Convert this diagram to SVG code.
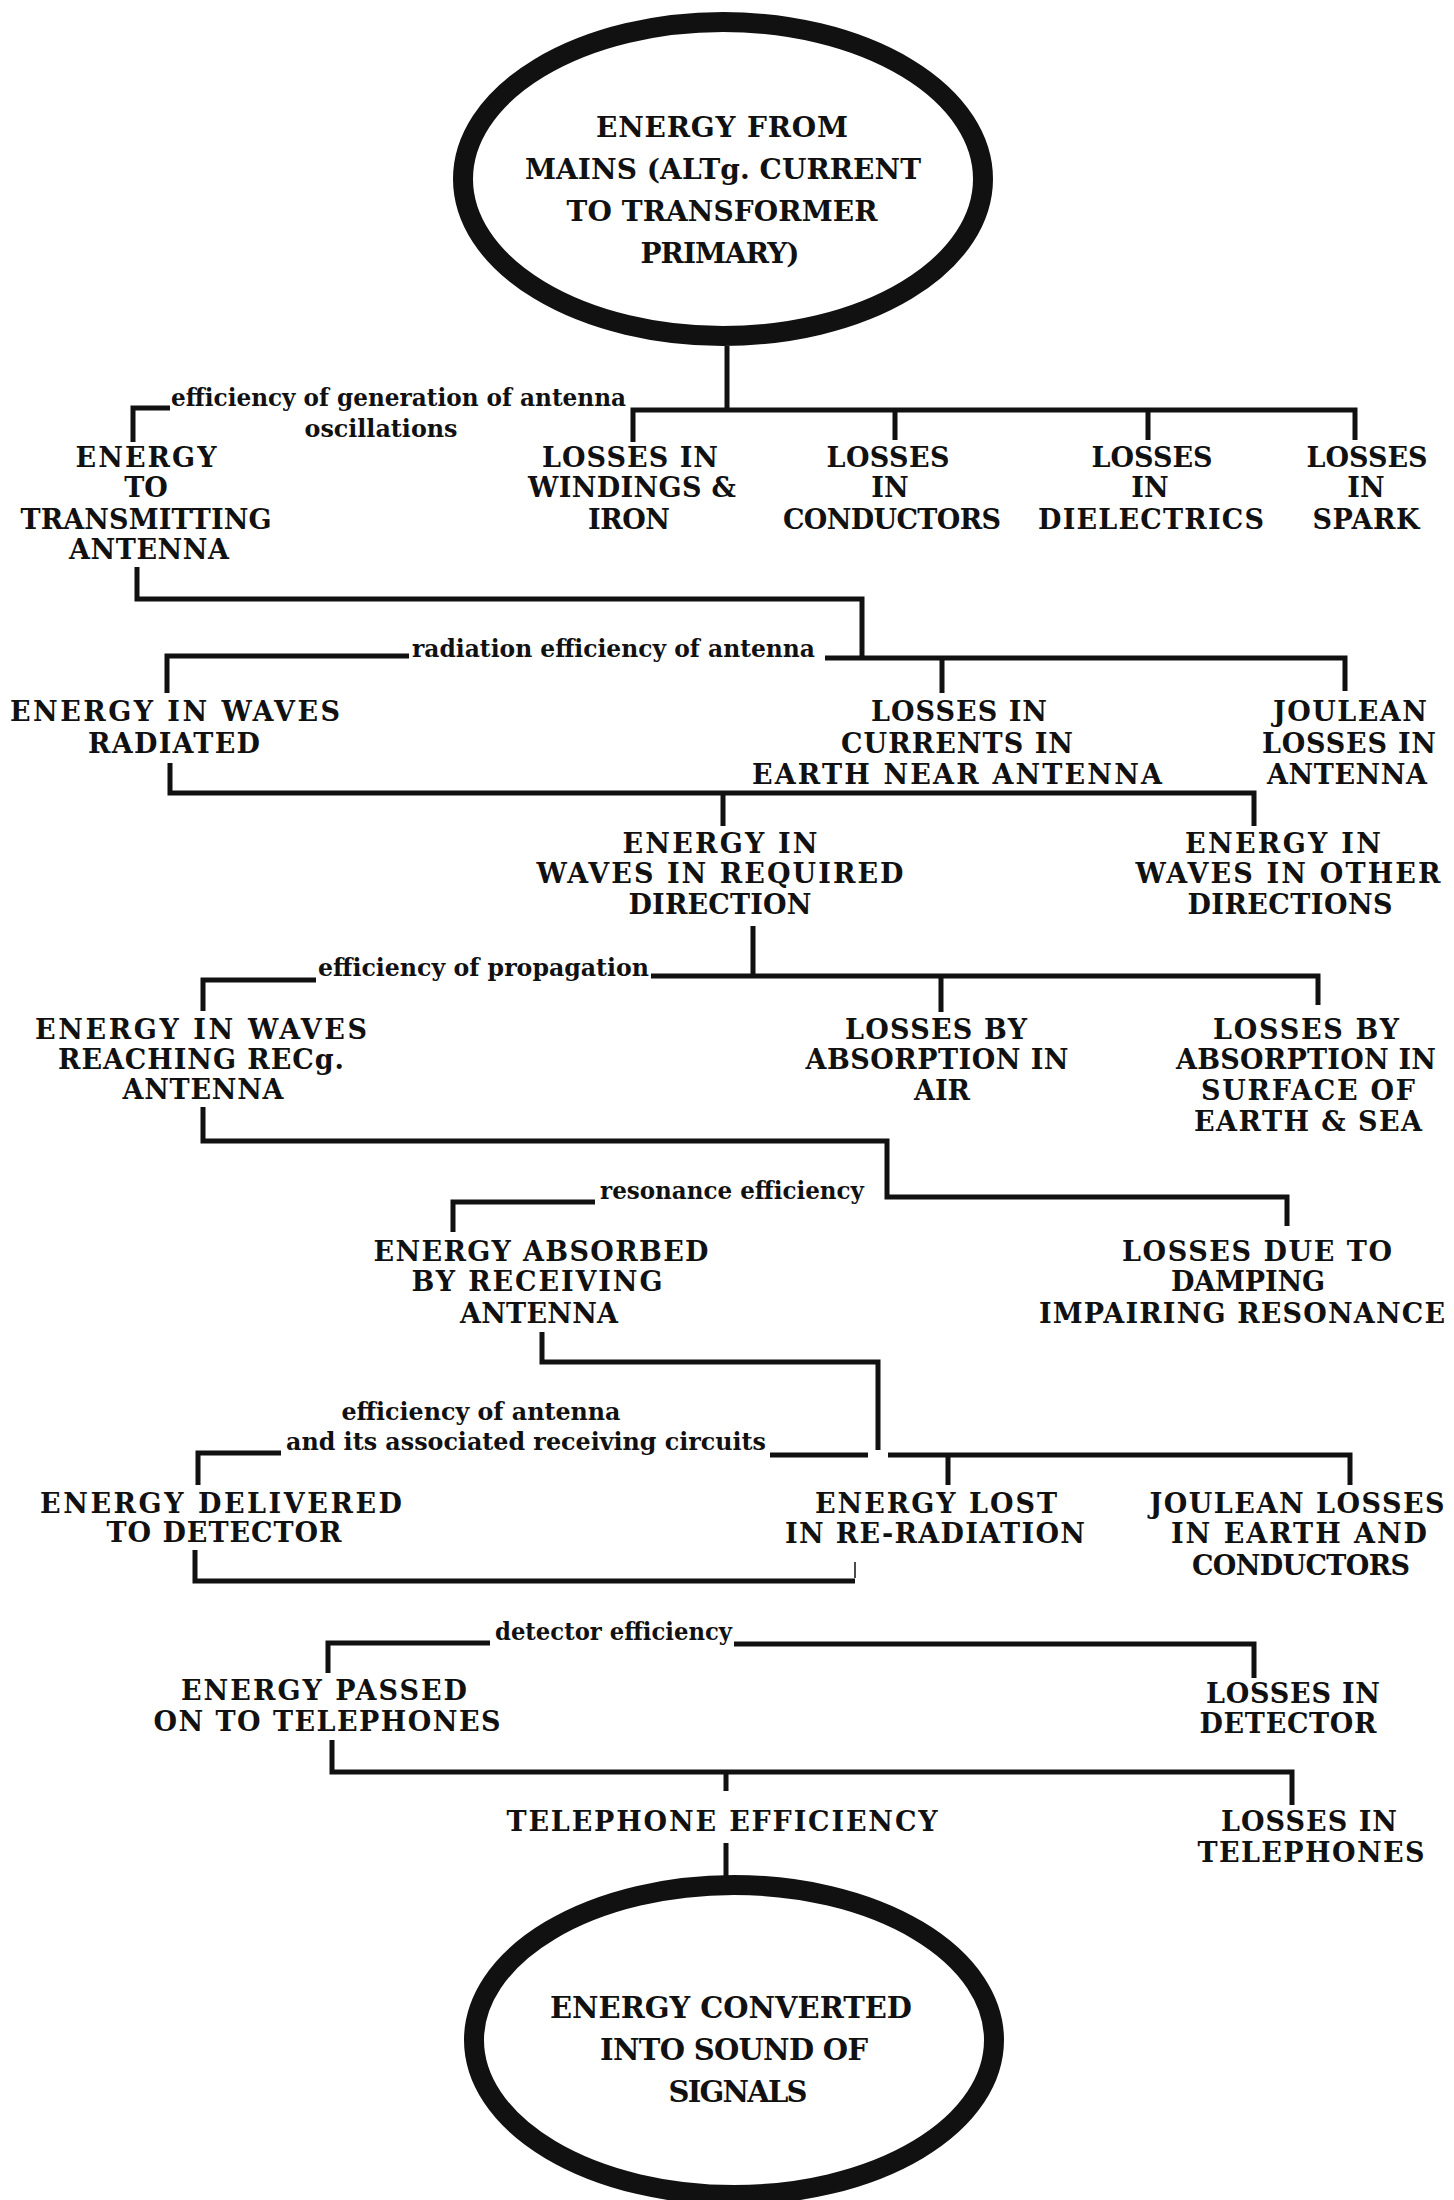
<svg xmlns="http://www.w3.org/2000/svg" width="1454" height="2200" viewBox="0 0 1454 2200">
<style>
text{font-family:"DejaVu Serif","Liberation Serif",serif;font-weight:bold;fill:#111}
.n{font-size:27px;text-anchor:middle}
.e{font-size:28px;text-anchor:middle}
.e2{font-size:29px;text-anchor:middle}
.l{font-size:24px;text-anchor:start}
.lc{font-size:24px;text-anchor:middle}
.oval{fill:none;stroke:#111;stroke-width:20}
#connectors path{fill:none;stroke:#111;stroke-width:5}
</style>
<rect width="1454" height="2200" fill="#fff"/>

<g id="connectors">
 <path d="M727 346 V410"/>
 <path d="M633 442 V410 H1355 V440"/>
 <path d="M895 410 V440 M1148 410 V440"/>
 <path d="M133 442 V408 H170"/>
 <path d="M137 567 V599 H862 V658"/>
 <path d="M825 658 H1345 V691 M942 658 V693"/>
 <path d="M167 693 V656 H409"/>
 <path d="M170 763 V793 H1254 V826 M723 793 V826"/>
 <path d="M753 926 V976 M651 976 H1318 V1005 M941 976 V1012"/>
 <path d="M203 1011 V980 H316"/>
 <path d="M203 1107 V1141 H887 V1197 H1287 V1226"/>
 <path d="M453 1232 V1202 H595"/>
 <path d="M542 1332 V1362 H878 V1450"/>
 <path d="M770 1455 H868 M888 1455 H1350 V1485 M948 1455 V1485"/>
 <path d="M198 1485 V1453 H281"/>
 <path d="M195 1550 V1581 H855"/>
 <path d="M855 1562 V1578" style="stroke-width:1.5"/>
 <path d="M328 1673 V1643 H490"/>
 <path d="M734 1644 H1254 V1678"/>
 <path d="M332 1740 V1772 H1292 V1805 M726 1772 V1791"/>
 <path d="M726 1843 V1876"/>
</g>

<g id="labels">
 <text class="l" x="171" y="406" textLength="455" lengthAdjust="spacingAndGlyphs">efficiency of generation of antenna</text>
 <text class="lc" x="381" y="437" textLength="153" lengthAdjust="spacingAndGlyphs">oscillations</text>
 <text class="l" x="412" y="657" textLength="403" lengthAdjust="spacingAndGlyphs">radiation efficiency of antenna</text>
 <text class="l" x="318" y="976" textLength="331" lengthAdjust="spacingAndGlyphs">efficiency of propagation</text>
 <text class="l" x="600" y="1199" textLength="264" lengthAdjust="spacingAndGlyphs">resonance efficiency</text>
 <text class="lc" x="481" y="1420" textLength="279" lengthAdjust="spacingAndGlyphs">efficiency of antenna</text>
 <text class="l" x="286" y="1450" textLength="480" lengthAdjust="spacingAndGlyphs">and its associated receiving circuits</text>
 <text class="l" x="495" y="1640" textLength="237" lengthAdjust="spacingAndGlyphs">detector efficiency</text>
</g>

<g id="n-mains">
 <ellipse class="oval" cx="723" cy="179" rx="260" ry="157"/>
 <text class="e" x="722" y="137" textLength="252" lengthAdjust="spacing">ENERGY FROM</text>
 <text class="e" x="723" y="179" textLength="396" lengthAdjust="spacing">MAINS (ALTg. CURRENT</text>
 <text class="e" x="722" y="221" textLength="311" lengthAdjust="spacing">TO TRANSFORMER</text>
 <text class="e" x="720" y="263" textLength="159" lengthAdjust="spacing">PRIMARY)</text>
</g>

<g id="n-energy-transmitting">
 <text class="n" x="146" y="467" textLength="141" lengthAdjust="spacing">ENERGY</text>
 <text class="n" x="146" y="497">TO</text>
 <text class="n" x="146" y="529" textLength="251" lengthAdjust="spacing">TRANSMITTING</text>
 <text class="n" x="149" y="559" textLength="160" lengthAdjust="spacing">ANTENNA</text>
</g>
<g id="n-loss-windings">
 <text class="n" x="630" y="467" textLength="176" lengthAdjust="spacing">LOSSES IN</text>
 <text class="n" x="632" y="497" textLength="208" lengthAdjust="spacing">WINDINGS &amp;</text>
 <text class="n" x="629" y="529" textLength="82" lengthAdjust="spacing">IRON</text>
</g>
<g id="n-loss-conductors">
 <text class="n" x="888" y="467" textLength="123" lengthAdjust="spacing">LOSSES</text>
 <text class="n" x="890" y="497">IN</text>
 <text class="n" x="892" y="529" textLength="218" lengthAdjust="spacing">CONDUCTORS</text>
</g>
<g id="n-loss-dielectrics">
 <text class="n" x="1152" y="467" textLength="121" lengthAdjust="spacing">LOSSES</text>
 <text class="n" x="1150" y="497">IN</text>
 <text class="n" x="1151" y="529" textLength="226" lengthAdjust="spacing">DIELECTRICS</text>
</g>
<g id="n-loss-spark">
 <text class="n" x="1367" y="467" textLength="121" lengthAdjust="spacing">LOSSES</text>
 <text class="n" x="1366" y="497">IN</text>
 <text class="n" x="1366" y="529" textLength="107" lengthAdjust="spacing">SPARK</text>
</g>

<g id="n-waves-radiated">
 <text class="n" x="175" y="721" textLength="330" lengthAdjust="spacing">ENERGY IN WAVES</text>
 <text class="n" x="174" y="753" textLength="172" lengthAdjust="spacing">RADIATED</text>
</g>
<g id="n-loss-earth-currents">
 <text class="n" x="959" y="721" textLength="176" lengthAdjust="spacing">LOSSES IN</text>
 <text class="n" x="957" y="753" textLength="232" lengthAdjust="spacing">CURRENTS IN</text>
 <text class="n" x="957" y="784" textLength="410" lengthAdjust="spacing">EARTH NEAR ANTENNA</text>
</g>
<g id="n-joulean-antenna">
 <text class="n" x="1350" y="721" textLength="154" lengthAdjust="spacing">JOULEAN</text>
 <text class="n" x="1349" y="753" textLength="174" lengthAdjust="spacing">LOSSES IN</text>
 <text class="n" x="1347" y="784" textLength="160" lengthAdjust="spacing">ANTENNA</text>
</g>

<g id="n-required-direction">
 <text class="n" x="720" y="853" textLength="195" lengthAdjust="spacing">ENERGY IN</text>
 <text class="n" x="720" y="883" textLength="367" lengthAdjust="spacing">WAVES IN REQUIRED</text>
 <text class="n" x="720" y="914" textLength="183" lengthAdjust="spacing">DIRECTION</text>
</g>
<g id="n-other-directions">
 <text class="n" x="1283" y="853" textLength="196" lengthAdjust="spacing">ENERGY IN</text>
 <text class="n" x="1288" y="883" textLength="305" lengthAdjust="spacing">WAVES IN OTHER</text>
 <text class="n" x="1290" y="914" textLength="205" lengthAdjust="spacing">DIRECTIONS</text>
</g>

<g id="n-reaching-receiving">
 <text class="n" x="201" y="1039" textLength="332" lengthAdjust="spacing">ENERGY IN WAVES</text>
 <text class="n" x="201" y="1069" textLength="286" lengthAdjust="spacing">REACHING RECg.</text>
 <text class="n" x="203" y="1099" textLength="161" lengthAdjust="spacing">ANTENNA</text>
</g>
<g id="n-absorption-air">
 <text class="n" x="936" y="1039" textLength="182" lengthAdjust="spacing">LOSSES BY</text>
 <text class="n" x="937" y="1069" textLength="263" lengthAdjust="spacing">ABSORPTION IN</text>
 <text class="n" x="942" y="1100">AIR</text>
</g>
<g id="n-absorption-surface">
 <text class="n" x="1306" y="1039" textLength="186" lengthAdjust="spacing">LOSSES BY</text>
 <text class="n" x="1306" y="1069" textLength="260" lengthAdjust="spacing">ABSORPTION IN</text>
 <text class="n" x="1308" y="1100" textLength="214" lengthAdjust="spacing">SURFACE OF</text>
 <text class="n" x="1308" y="1131" textLength="228" lengthAdjust="spacing">EARTH &amp; SEA</text>
</g>

<g id="n-absorbed">
 <text class="n" x="541" y="1261" textLength="335" lengthAdjust="spacing">ENERGY ABSORBED</text>
 <text class="n" x="537" y="1291" textLength="251" lengthAdjust="spacing">BY RECEIVING</text>
 <text class="n" x="539" y="1323" textLength="158" lengthAdjust="spacing">ANTENNA</text>
</g>
<g id="n-damping">
 <text class="n" x="1257" y="1261" textLength="270" lengthAdjust="spacing">LOSSES DUE TO</text>
 <text class="n" x="1248" y="1291" textLength="154" lengthAdjust="spacing">DAMPING</text>
 <text class="n" x="1242" y="1323" textLength="406" lengthAdjust="spacing">IMPAIRING RESONANCE</text>
</g>

<g id="n-delivered">
 <text class="n" x="221" y="1513" textLength="362" lengthAdjust="spacing">ENERGY DELIVERED</text>
 <text class="n" x="224" y="1542" textLength="235" lengthAdjust="spacing">TO DETECTOR</text>
</g>
<g id="n-reradiation">
 <text class="n" x="936" y="1513" textLength="242" lengthAdjust="spacing">ENERGY LOST</text>
 <text class="n" x="935" y="1543" textLength="300" lengthAdjust="spacing">IN RE-RADIATION</text>
</g>
<g id="n-joulean-earth">
 <text class="n" x="1297" y="1513" textLength="295" lengthAdjust="spacing">JOULEAN LOSSES</text>
 <text class="n" x="1299" y="1543" textLength="256" lengthAdjust="spacing">IN EARTH AND</text>
 <text class="n" x="1301" y="1575" textLength="218" lengthAdjust="spacing">CONDUCTORS</text>
</g>

<g id="n-passed">
 <text class="n" x="324" y="1700" textLength="286" lengthAdjust="spacing">ENERGY PASSED</text>
 <text class="n" x="327" y="1731" textLength="347" lengthAdjust="spacing">ON TO TELEPHONES</text>
</g>
<g id="n-loss-detector">
 <text class="n" x="1293" y="1703" textLength="174" lengthAdjust="spacing">LOSSES IN</text>
 <text class="n" x="1288" y="1733" textLength="177" lengthAdjust="spacing">DETECTOR</text>
</g>

<g id="n-telephone-efficiency">
 <text class="n" x="722" y="1831" textLength="431" lengthAdjust="spacing">TELEPHONE EFFICIENCY</text>
</g>
<g id="n-loss-telephones">
 <text class="n" x="1309" y="1831" textLength="176" lengthAdjust="spacing">LOSSES IN</text>
 <text class="n" x="1311" y="1862" textLength="227" lengthAdjust="spacing">TELEPHONES</text>
</g>

<g id="n-sound">
 <ellipse class="oval" cx="734" cy="2040" rx="260" ry="155"/>
 <text class="e2" x="731" y="2018" textLength="362" lengthAdjust="spacing">ENERGY CONVERTED</text>
 <text class="e2" x="734" y="2060" textLength="268" lengthAdjust="spacing">INTO SOUND OF</text>
 <text class="e2" x="738" y="2102" textLength="139" lengthAdjust="spacing">SIGNALS</text>
</g>
</svg>
